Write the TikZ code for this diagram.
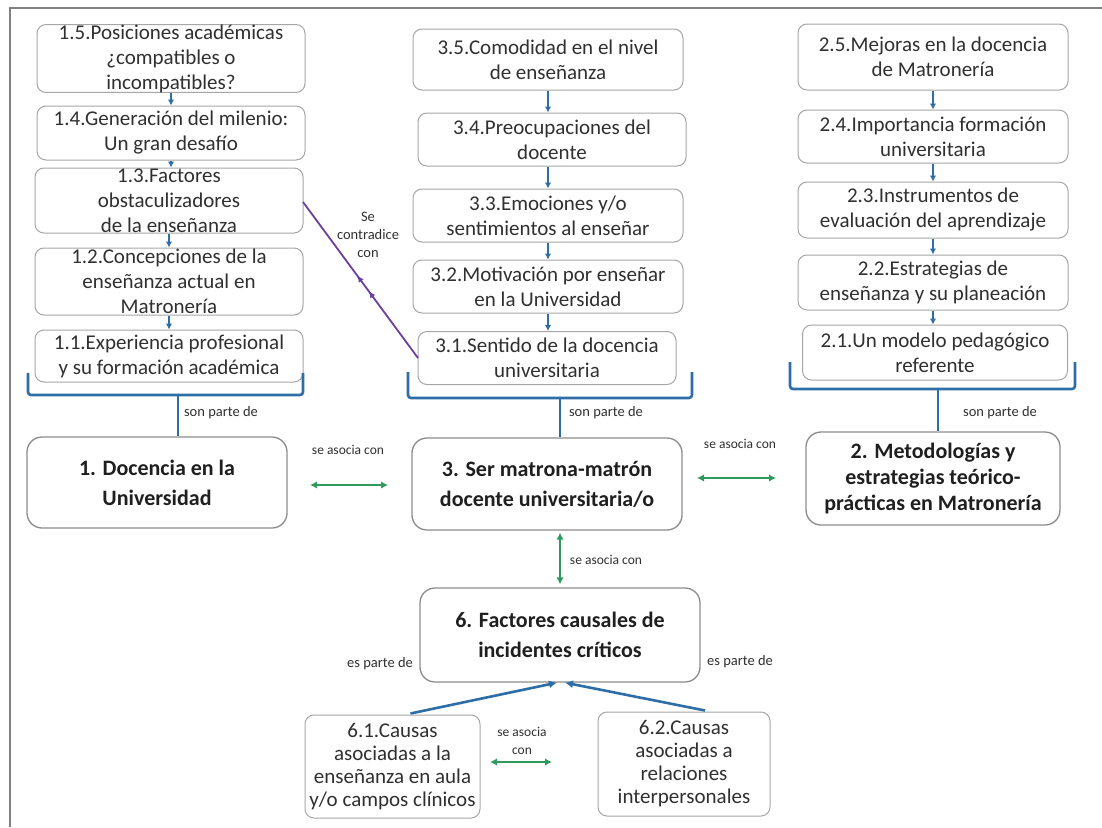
\documentclass[tikz,border=0pt]{standalone}
\usepackage{fontspec}
\setmainfont{Carlito}
\usetikzlibrary{arrows.meta,calc,decorations.markings}
\definecolor{frameg}{HTML}{808080}
\definecolor{boxg}{HTML}{A6A6A6}
\definecolor{mainb}{HTML}{8C8C8C}
\definecolor{txt}{HTML}{303030}
\definecolor{linkblue}{HTML}{2E6EA6}
\definecolor{linkgreen}{HTML}{2E9A5C}
\definecolor{linkpurple}{HTML}{6B3FA0}
\tikzset{
  subbox/.style={draw=boxg, line width=1pt, rounded corners=9pt, fill=white,
    align=center, text=txt, inner sep=0pt, font=\fontsize{21}{25}\selectfont},
  mainbox/.style={draw=mainb, line width=1.3pt, rounded corners=15pt, fill=white,
    align=center, text=black!88, inner sep=0pt, font=\bfseries\fontsize{22}{30}\selectfont},
  chain/.style={draw=linkblue, line width=1.8pt, -{Latex[length=6pt,width=6.5pt]}},
  brace/.style={draw=linkblue, line width=2.6pt, rounded corners=3pt},
  assoc/.style={draw=linkgreen, line width=2.2pt, {Latex[length=7pt,width=7.5pt]}-{Latex[length=7pt,width=7.5pt]}},
  partof/.style={draw=linkblue, line width=2.6pt, -{Latex[length=8pt,width=8pt]}},
  lbl/.style={text=txt, align=center, inner sep=0pt, font=\fontsize{14.5}{16}\selectfont},
  slbl/.style={text=txt, align=center, inner sep=0pt, font=\fontsize{13.5}{18}\selectfont},
}
\begin{document}
\begin{tikzpicture}[x=1pt,y=-1pt]
\useasboundingbox (0,0) rectangle (1102,827);
% page frame (top and left edges)
\draw[frameg, line width=2.5pt] (10,827) -- (10,8) -- (1102,8);

% ---- column 1 ----
\node[subbox, minimum width=268pt, minimum height=67pt] (n15) at (171,58.5)
  {1.5.Posiciones académicas\\¿compatibles o\\incompatibles?};
\node[subbox, minimum width=268pt, minimum height=54pt] (n14) at (171,133)
  {1.4.Generación del milenio:\\Un gran desafío};
\node[subbox, minimum width=268pt, minimum height=65pt] (n13) at (169,200.5)
  {1.3.Factores\\obstaculizadores\\de la enseñanza};
\node[subbox, minimum width=268pt, minimum height=67pt] (n12) at (169,281.5)
  {1.2.Concepciones de la\\enseñanza actual en\\Matronería};
\node[subbox, minimum width=268pt, minimum height=52pt] (n11) at (169,356)
  {1.1.Experiencia profesional\\y su formación académica};
\draw[chain] (n15.south) -- (n14.north);
\draw[chain] (n14.south) -- (n13.north -| n14.south);
\draw[chain] (n13.south) -- (n12.north);
\draw[chain] (n12.south) -- (n11.north);

% ---- column 3 ----
\node[subbox, minimum width=270pt, minimum height=61pt] (n35) at (548,59.5)
  {3.5.Comodidad en el nivel\\de enseñanza};
\node[subbox, minimum width=268pt, minimum height=53pt] (n34) at (552,139.5)
  {3.4.Preocupaciones del\\docente};
\node[subbox, minimum width=270pt, minimum height=53pt] (n33) at (548,215.5)
  {3.3.Emociones y/o\\sentimientos al enseñar};
\node[subbox, minimum width=270pt, minimum height=53pt] (n32) at (548,286.5)
  {3.2.Motivación por enseñar\\en la Universidad};
\node[subbox, minimum width=258pt, minimum height=53pt] (n31) at (547,358)
  {3.1.Sentido de la docencia\\universitaria};
\draw[chain] (n35.south) -- (n34.north -| n35.south);
\draw[chain] (n33.north |- n34.south) -- (n33.north);
\draw[chain] (n33.south) -- (n32.north);
\draw[chain] (n32.south) -- (n31.north -| n32.south);

% ---- column 2 ----
\node[subbox, minimum width=270pt, minimum height=66pt] (n25) at (933,57)
  {2.5.Mejoras en la docencia\\de Matronería};
\node[subbox, minimum width=270pt, minimum height=53pt] (n24) at (933,136.5)
  {2.4.Importancia formación\\universitaria};
\node[subbox, minimum width=270pt, minimum height=56pt] (n23) at (933,210)
  {2.3.Instrumentos de\\evaluación del aprendizaje};
\node[subbox, minimum width=270pt, minimum height=55pt] (n22) at (933,282.5)
  {2.2.Estrategias de\\enseñanza y su planeación};
\node[subbox, minimum width=265pt, minimum height=55pt] (n21) at (935,352.5)
  {2.1.Un modelo pedagógico\\referente};
\draw[chain] (n25.south) -- (n24.north);
\draw[chain] (n24.south) -- (n23.north);
\draw[chain] (n23.south) -- (n22.north);
\draw[chain] (n22.south) -- (n21.north -| n22.south);

% ---- main categories ----
\node[mainbox, minimum width=260pt, minimum height=91pt] (m1) at (157,482.5)
  {1. Docencia en la\\Universidad};
\node[mainbox, minimum width=270pt, minimum height=92pt] (m3) at (547,484)
  {3. Ser matrona-matrón\\docente universitaria/o};
\node[mainbox, minimum width=254pt, minimum height=93pt,
  font=\bfseries\fontsize{22}{26}\selectfont] (m2) at (933,478.5)
  {2. Metodologías y\\estrategias teórico-\\prácticas en Matronería};
\node[mainbox, minimum width=280pt, minimum height=94pt] (m6) at (560,635)
  {6. Factores causales de\\incidentes críticos};

% ---- grouping braces ----
\coordinate (b1l) at (28,373);  \coordinate (b1r) at (303,373);
\coordinate (b1m) at (178,395);
\draw[brace] (b1l) -- (b1l |- b1m) -- (b1r |- b1m) -- (b1r);
\draw[brace, rounded corners=0pt] (b1m) -- (b1m |- m1.north);
\node[lbl] (t1) at (221,413) {son parte de};

\coordinate (b3l) at (408,372); \coordinate (b3r) at (692,372);
\coordinate (b3m) at (560,398);
\draw[brace] (b3l) -- (b3l |- b3m) -- (b3r |- b3m) -- (b3r);
\draw[brace, rounded corners=0pt] (b3m) -- (b3m |- m3.north);
\node[lbl] (t3) at (606,413) {son parte de};

\coordinate (b2l) at (790,362); \coordinate (b2r) at (1075,362);
\coordinate (b2m) at (938,389);
\draw[brace] (b2l) -- (b2l |- b2m) -- (b2r |- b2m) -- (b2r);
\draw[brace, rounded corners=0pt] (b2m) -- (b2m |- m2.north);
\node[lbl] (t2) at (1000,413) {son parte de};

% ---- contradiction link ----
\coordinate (p13) at (303,202);
\coordinate (p31) at (418,358);
\draw[linkpurple, line width=1.8pt,
  decoration={markings, mark=at position 0.57 with {\arrowreversed{Latex[length=7pt,width=6pt]}},
              mark=at position 0.47 with {\arrowreversed{Latex[length=7pt,width=6pt]}}},
  postaction=decorate] (p13) -- (p31);
\node[slbl, font=\fontsize{14.5}{18}\selectfont] (tc) at (368,235) {Se\\contradice\\con};

% ---- associations ----
\coordinate (a1l) at (310,485); \coordinate (a1r) at (388,485);
\draw[assoc] (a1l) -- (a1r);
\node[slbl] (ta1) at (348,450) {se asocia con};
\coordinate (a2l) at (697,478); \coordinate (a2r) at (776,478);
\draw[assoc] (a2l) -- (a2r);
\node[slbl] (ta2) at (740,444) {se asocia con};
\draw[assoc] ([yshift=-2pt]m3.south -| 560,0) -- ([yshift=3pt]m6.north);
\node[slbl] (ta3) at (606,560) {se asocia con};

% ---- causes ----
\node[subbox, minimum width=175pt, minimum height=103pt,
  font=\fontsize{21}{23}\selectfont] (n61) at (392.5,766.5)
  {6.1.Causas\\asociadas a la\\enseñanza en aula\\y/o campos clínicos};
\node[subbox, minimum width=172pt, minimum height=104pt,
  font=\fontsize{21}{23}\selectfont] (n62) at (684,764)
  {6.2.Causas\\asociadas a\\relaciones\\interpersonales};
\draw[partof] ($(n61.north)+(18,-1)$) -- ($(m6.south)+(-3,0)$);
\draw[partof] ($(n62.north)+(21,-1)$) -- ($(m6.south)+(5,0)$);
\node[lbl] (te1) at (380,664) {es parte de};
\node[lbl] (te2) at (740,662) {es parte de};
\coordinate (a3l) at (490,762); \coordinate (a3r) at (552,762);
\draw[assoc] (a3l) -- (a3r);
\node[slbl] (ta4) at (522,741) {se asocia\\con};
\end{tikzpicture}
\end{document}
